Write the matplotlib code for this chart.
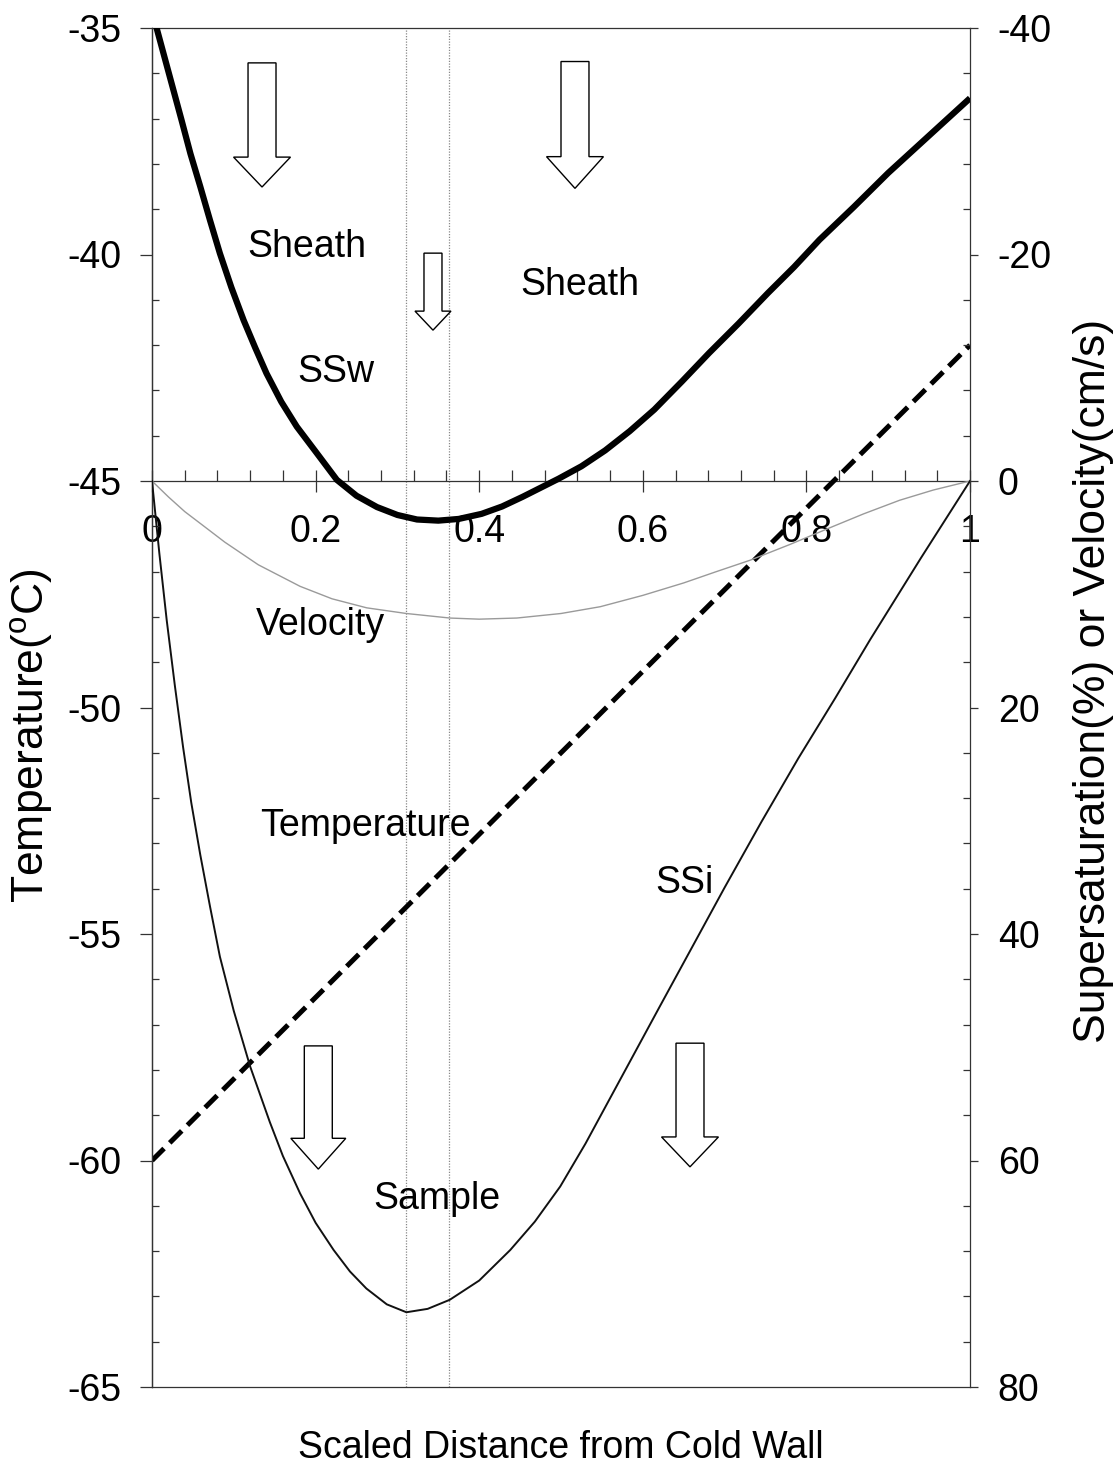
import numpy as np
import matplotlib
matplotlib.use("Agg")
import matplotlib.pyplot as plt
from matplotlib.patches import Polygon
from matplotlib.ticker import MultipleLocator

plt.rcParams['font.family'] = ['Liberation Sans', 'DejaVu Sans']
plt.rcParams['mathtext.fontset'] = 'custom'
plt.rcParams['mathtext.rm'] = 'Liberation Sans'
plt.rcParams['axes.unicode_minus'] = False

# supersaturation w.r.t. water (right axis, %)
x_ssw = [0.000, 0.018, 0.036, 0.047, 0.059, 0.071, 0.083, 0.097, 0.112, 0.126,
         0.140, 0.158, 0.177, 0.200, 0.226, 0.250, 0.275, 0.300, 0.324, 0.350,
         0.375, 0.403, 0.428, 0.453, 0.475, 0.497, 0.525, 0.554, 0.584, 0.614,
         0.648, 0.681, 0.717, 0.753, 0.785, 0.816, 0.858, 0.900, 0.950, 1.000]
ssw = [-41.5, -36.7, -31.9, -28.9, -26.0, -23.0, -20.1, -17.1, -14.2, -11.8,
       -9.5, -7.0, -4.8, -2.6, -0.1, 1.3, 2.3, 3.0, 3.4, 3.5,
       3.35, 2.9, 2.25, 1.4, 0.6, -0.2, -1.3, -2.7, -4.4, -6.3,
       -8.8, -11.3, -13.9, -16.6, -18.9, -21.3, -24.2, -27.2, -30.5, -33.8]

# supersaturation w.r.t. ice (right axis, %)
x_ssi = [0.000, 0.009, 0.018, 0.028, 0.038, 0.048, 0.059, 0.071, 0.083, 0.100,
         0.120, 0.144, 0.160, 0.181, 0.200, 0.222, 0.242, 0.262, 0.287, 0.311,
         0.337, 0.364, 0.400, 0.438, 0.468, 0.499, 0.530, 0.560, 0.590, 0.620,
         0.660, 0.700, 0.745, 0.790, 0.835, 0.878, 0.940, 1.000]
ssi = [0.0, 6.4, 12.3, 18.1, 23.5, 28.4, 33.0, 37.6, 42.0, 46.8,
       51.7, 56.6, 59.6, 62.9, 65.5, 67.9, 69.8, 71.3, 72.7, 73.4,
       73.1, 72.3, 70.6, 67.9, 65.4, 62.3, 58.5, 54.5, 50.5, 46.5,
       41.2, 35.9, 30.1, 24.5, 19.2, 14.0, 6.8, 0.0]

# flow velocity (right axis, cm/s)
x_vel = [0.000, 0.020, 0.040, 0.060, 0.089, 0.130, 0.181, 0.220, 0.2625, 0.311,
         0.364, 0.400, 0.446, 0.500, 0.548, 0.600, 0.650, 0.690, 0.731, 0.780,
         0.833, 0.870, 0.914, 0.955, 1.000]
vel = [0.0, 1.4, 2.7, 3.8, 5.4, 7.4, 9.3, 10.4, 11.2, 11.7,
       12.1, 12.2, 12.1, 11.7, 11.1, 10.1, 9.0, 8.0, 7.0, 5.6,
       4.0, 2.9, 1.7, 0.8, 0.0]

# linear temperature profile between the walls (left axis, degC)
x_temp = [0.0, 1.0]
temp = [-60.0, -42.0]

# edges of the sample lamina
sample_edges = [0.311, 0.363]

x_ticks = [0, 0.2, 0.4, 0.6, 0.8, 1.0]
x_ticklabels = ['0', '0.2', '0.4', '0.6', '0.8', '1']
t_ticks = [-65, -60, -55, -50, -45, -40, -35]
t_ticklabels = ['-65', '-60', '-55', '-50', '-45', '-40', '-35']
s_ticks = [-40, -20, 0, 20, 40, 60, 80]
s_ticklabels = ['-40', '-20', '0', '20', '40', '60', '80']

FS = 27
AX_C = '#333333'


def down_arrow(ax, xc, top, neck, tip, shaft, head):
    pts = [(xc - shaft, top), (xc + shaft, top), (xc + shaft, neck), (xc + head, neck),
           (xc, tip), (xc - head, neck), (xc - shaft, neck)]
    ax.add_patch(Polygon(pts, closed=True, fc='white', ec='black', lw=1.0, zorder=5))


fig = plt.figure(figsize=(11.2, 14.66), dpi=100)
ax = fig.add_axes([152 / 1120, 79 / 1466, 818 / 1120, 1359 / 1466])
ax2 = ax.twinx()

ax.set_xlim(0, 1)
ax.set_ylim(-65, -35)
ax2.set_ylim(80, -40)

# x axis sits on the -45 degC / 0 % line
ax.spines['bottom'].set_position(('data', -45))
ax.spines['top'].set_visible(False)
ax.spines['right'].set_visible(False)
for sp in list(ax.spines.values()) + list(ax2.spines.values()):
    sp.set_color(AX_C)
    sp.set_linewidth(0.9)

ax.set_xticks(x_ticks)
ax.set_xticklabels(x_ticklabels)
ax.xaxis.set_minor_locator(MultipleLocator(0.04))
ax.tick_params(axis='x', which='major', direction='inout', length=16, width=0.9,
               color=AX_C, labelsize=FS, pad=16)
ax.tick_params(axis='x', which='minor', direction='in', length=8, width=0.9, color=AX_C)

ax.set_yticks(t_ticks)
ax.set_yticklabels(t_ticklabels)
ax.yaxis.set_minor_locator(MultipleLocator(1))
ax.tick_params(axis='y', which='major', direction='out', length=9, width=0.9,
               color=AX_C, labelsize=FS, pad=13)
ax.tick_params(axis='y', which='minor', direction='in', length=5, width=0.9, color=AX_C)

ax2.set_yticks(s_ticks)
ax2.set_yticklabels(s_ticklabels)
ax2.yaxis.set_minor_locator(MultipleLocator(4))
ax2.tick_params(axis='y', which='major', direction='out', length=6, width=0.9,
                color=AX_C, labelsize=FS, pad=14)
ax2.tick_params(axis='y', which='minor', direction='in', length=5, width=0.9, color=AX_C)

for xe in sample_edges:
    ax.axvline(xe, color='#888888', lw=0.9, ls=(0, (1, 1.2)), zorder=1)

ax.plot(x_temp, temp, color='black', lw=3.6, dashes=(3.4, 1.6),
        dash_capstyle='butt', zorder=3)
ax2.plot(x_vel, vel, color='#9a9a9a', lw=1.0, zorder=2)
ax2.plot(x_ssi, ssi, color='#111111', lw=1.4, zorder=3)
ax2.plot(x_ssw, ssw, color='black', lw=4.5, solid_capstyle='butt',
         solid_joinstyle='round', zorder=4)

# flow direction arrows
down_arrow(ax, 0.1345, -35.77, -37.85, -38.51, 0.0171, 0.0348)
down_arrow(ax, 0.5171, -35.74, -37.84, -38.54, 0.0171, 0.0348)
down_arrow(ax, 0.3435, -39.97, -41.25, -41.67, 0.0110, 0.0220)
down_arrow(ax, 0.2033, -57.47, -59.51, -60.19, 0.0171, 0.0336)
down_arrow(ax, 0.6577, -57.41, -59.48, -60.14, 0.0171, 0.0348)

labels = [
    ('Sheath', 0.1891, -40.05),
    ('SSw', 0.2247, -42.81),
    ('Sheath', 0.5227, -40.89),
    ('Velocity', 0.2064, -48.40),
    ('Temperature', 0.2604, -52.84),
    ('SSi', 0.6504, -54.09),
    ('Sample', 0.348, -61.07),
]
for txt, tx, ty in labels:
    ax.text(tx, ty, txt, fontsize=FS, ha='center', va='baseline', zorder=6)

fig.text(32 / 1120, 1 - 736 / 1466, r'Temperature($^{\rm o}$C)', rotation=90,
         fontsize=32, ha='center', va='center')
fig.text(1094 / 1120, 1 - 681 / 1466, 'Supersaturation(%) or Velocity(cm/s)',
         rotation=90, fontsize=32, ha='center', va='center')
fig.text(561 / 1120, 1 - 1458 / 1466, 'Scaled Distance from Cold Wall',
         fontsize=FS, ha='center', va='baseline')

fig.savefig('out.png', dpi=100)
